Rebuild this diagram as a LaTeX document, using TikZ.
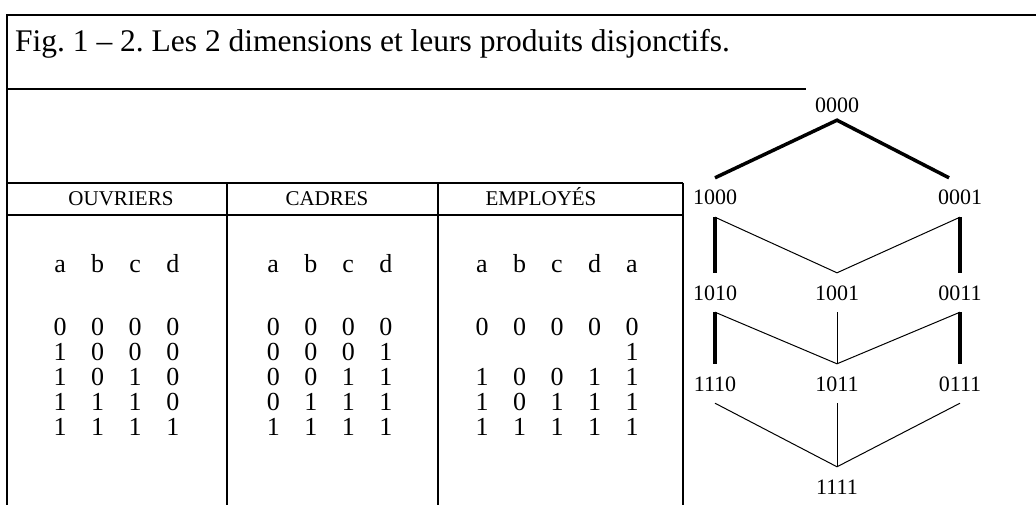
\documentclass[tikz,border=0pt]{standalone}
\usepackage{fontspec}
\setmainfont{Liberation Serif}
\frenchspacing
\usetikzlibrary{matrix,positioning}
\tikzset{
bitmat/.style={
  matrix of nodes,
  nodes in empty cells,
  inner sep=0pt,
  anchor=north,
  nodes={inner sep=0pt,
    text height=18pt,
    text depth=7pt,
    text width=37.5pt,
    align=center,
    font=\fontsize{26}{26}\selectfont},
  column sep=0pt
  }
}
\tikzset{
  rule/.style={line width=2pt},
  hdr/.style={anchor=base,inner sep=0pt,font=\fontsize{21}{21}\selectfont},
  lat/.style={anchor=base,inner xsep=0pt,inner ysep=12pt,
    text height=15pt,text depth=0pt,font=\fontsize{22}{22}\selectfont},
  heavy/.style={line width=3.5pt},
  light/.style={line width=1pt}
}

\begin{document}
\begin{tikzpicture}[x=1pt,y=-1pt]
\useasboundingbox (0,0) rectangle (1036,505);

% frame and rules
\draw[rule] (1036,15) -- (7,15) -- (7,505);
\draw[rule] (7,89) -- (806,89);
\draw[rule] (7,183) -- (683,183);
\draw[rule] (7,215) -- (683,215);
\draw[rule] (227,183) -- (227,505);
\draw[rule] (438,183) -- (438,505);
\draw[rule] (683,183) -- (683,505);

\node[anchor=base west,inner sep=0pt,font=\fontsize{31.5}{31.5}\selectfont]
  (title) at (15,52) {Fig. 1 -- 2. Les 2 dimensions et leurs produits disjonctifs.};

\node[hdr] (h-ouv) at (121,206) {OUVRIERS};
\node[hdr] (h-cad) at (327,206) {CADRES};
\node[hdr] (h-emp) at (541,206) {EMPLOYÉS};

\matrix[bitmat] at (116.5,254) (ouv)
{
  a & b & c & d \\[38pt]
  0 & 0 & 0 & 0 \\
  1 & 0 & 0 & 0 \\
  1 & 0 & 1 & 0 \\
  1 & 1 & 1 & 0 \\
  1 & 1 & 1 & 1 \\
};
\matrix[bitmat] at (329.5,254) (cad)
{
  a & b & c & d \\[38pt]
  0 & 0 & 0 & 0 \\
  0 & 0 & 0 & 1 \\
  0 & 0 & 1 & 1 \\
  0 & 1 & 1 & 1 \\
  1 & 1 & 1 & 1 \\
};
\matrix[bitmat] at (557,254) (emp)
{
  a & b & c & d & a \\[38pt]
  0 & 0 & 0 & 0 & 0 \\
    &   &   &   & 1 \\
  1 & 0 & 0 & 1 & 1 \\
  1 & 0 & 1 & 1 & 1 \\
  1 & 1 & 1 & 1 & 1 \\
};

% lattice
\node[lat] (n0000) at (837,113) {0000};
\node[lat] (n1000) at (715,205) {1000};
\node[lat] (n0001) at (960,205) {0001};
\node[lat] (n1010) at (715,300) {1010};
\node[lat] (n1001) at (837,300) {1001};
\node[lat] (n0011) at (960,300) {0011};
\node[lat] (n1110) at (715,391) {1110};
\node[lat] (n1011) at (837,391) {1011};
\node[lat] (n0111) at (960,391) {0111};
\node[lat] (n1111) at (837,494) {1111};

\draw[heavy] (n1000.north) -- ([yshift=5pt]n0000.south) -- ([xshift=-11pt]n0001.north);

\draw[heavy] (n1000.south) -- (n1010.north);
\draw[heavy] (n0001.south) -- (n0011.north);
\draw[light] (n1000.south) -- (n1001.north) -- (n0001.south);

\draw[heavy] (n1010.south) -- (n1110.north);
\draw[heavy] (n0011.south) -- (n0111.north);
\draw[light] (n1010.south) -- (n1011.north) -- (n0011.south);
\draw[light] (n1001.south) -- (n1011.north);

\draw[light] (n1110.south) -- (n1111.north) -- (n0111.south);
\draw[light] (n1011.south) -- (n1111.north);

\end{tikzpicture}
\end{document}
